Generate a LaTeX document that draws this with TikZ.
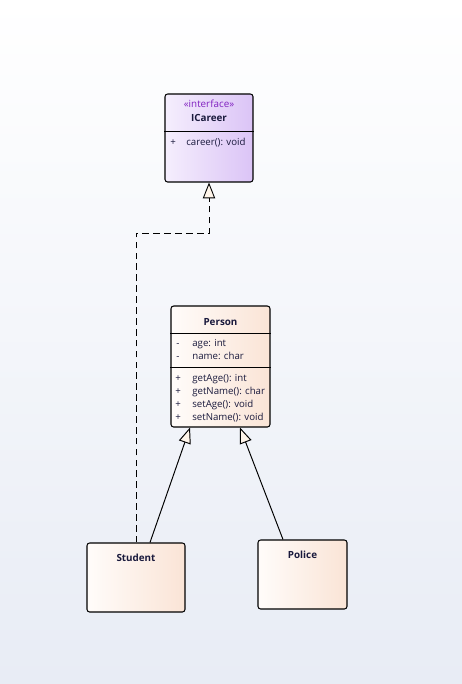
\documentclass[tikz,border=0pt]{standalone}
\usepackage{fontspec}
\setmainfont{Open Sans}
\usetikzlibrary{arrows.meta, calc}
\definecolor{bgblue}{RGB}{232,236,245}
\definecolor{ifleft}{RGB}{245,238,253}
\definecolor{ifright}{RGB}{219,196,246}
\definecolor{clleft}{RGB}{255,252,250}
\definecolor{clright}{RGB}{250,228,214}
\definecolor{umlink}{RGB}{25,25,60}
\definecolor{stereo}{RGB}{128,32,192}
\definecolor{tipcream}{RGB}{255,245,234}

\tikzset{
  umlbox/.style={draw=black, line width=0.6pt, rounded corners=1.5pt, inner sep=0pt},
  umltitle/.style={font=\fontsize{5.6}{7}\selectfont\bfseries, text=umlink, inner sep=0pt},
  umltext/.style={font=\fontsize{5.5}{7}\selectfont, text=umlink, anchor=base west, inner sep=0pt},
  generalize/.style={line width=0.55pt, -{Triangle[length=9pt, width=7pt, fill=tipcream]}},
  realize/.style={generalize, line width=0.5pt, dash pattern=on 3.8pt off 2.4pt}
}

\begin{document}
\begin{tikzpicture}[x=0.02cm, y=-0.02cm]
\useasboundingbox (0,0) rectangle (462,684);
\shade[top color=white, bottom color=bgblue] (0,0) rectangle (462,684);

% ICareer interface
\node[umlbox, left color=ifleft, right color=ifright, minimum width=1.76cm, minimum height=1.76cm] (icareer) at (209,138) {};
\node[umltitle, font=\fontsize{5.6}{7}\selectfont, text=stereo] (icareerst) at (209,104) {«interface»};
\node[umltitle] (icareername) at (209,118) {ICareer};
\draw[line width=0.5pt] (icareer.west |- 0,131) -- (icareer.east |- 0,131);
\node[umltext] (icareerv) at (170,145) {+};
\node[umltext] (icareerop) at (186,145) {career(): void};

% Person class
\node[umlbox, left color=clleft, right color=clright, minimum width=1.98cm, minimum height=2.42cm] (person) at (220.5,366.5) {};
\node[umltitle] (personname) at (220.5,322) {Person};
\draw[line width=0.5pt] (person.west |- 0,333) -- (person.east |- 0,333);
\node[umltext] (pv1) at (176,346.5) {-};
\node[umltext] (pa1) at (192,346.5) {age: int};
\node[umltext] (pv2) at (176,359.5) {-};
\node[umltext] (pa2) at (192,359.5) {name: char};
\draw[line width=0.5pt] (person.west |- 0,367) -- (person.east |- 0,367);
\node[umltext] (pv3) at (175,381.5) {+};
\node[umltext] (po1) at (192,381.5) {getAge(): int};
\node[umltext] (pv4) at (175,394.5) {+};
\node[umltext] (po2) at (192,394.5) {getName(): char};
\node[umltext] (pv5) at (175,407) {+};
\node[umltext] (po3) at (192,407) {setAge(): void};
\node[umltext] (pv6) at (175,420) {+};
\node[umltext] (po4) at (192,420) {setName(): void};

% Student and Police
\node[umlbox, left color=clleft, right color=clright, minimum width=1.96cm, minimum height=1.38cm] (student) at (136,577.5) {};
\node[umltitle] (studentname) at (136,558) {Student};
\node[umlbox, left color=clleft, right color=clright, minimum width=1.78cm, minimum height=1.38cm] (police) at (302.5,574.5) {};
\node[umltitle] (policename) at (302.5,555) {Police};

% connectors
\coordinate (elbow) at (209,233);
\draw[realize] (student.north) |- (elbow) -- (icareer.south);
\draw[generalize] ($(student.north)+(14,0)$) -- ($(person.south)+(-30.5,0)$);
\draw[generalize] ($(police.north)+(-19.5,0)$) -- ($(person.south)+(19.5,0)$);
\end{tikzpicture}
\end{document}
